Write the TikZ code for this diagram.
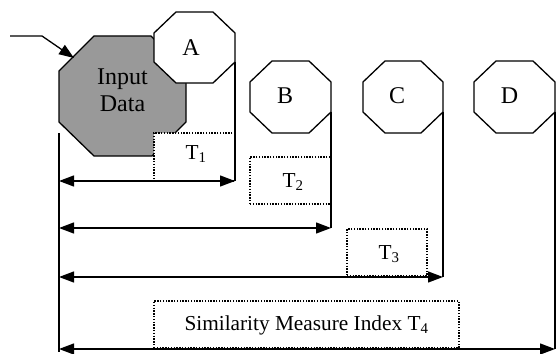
\documentclass[tikz,border=0pt]{standalone}
\usepackage{fontspec}
\setmainfont{Liberation Serif}
\usetikzlibrary{arrows.meta}
\begin{document}
\begin{tikzpicture}[x=1pt,y=-1pt,
  oct/.style={draw=black, line width=1.3pt, fill=white, line join=miter},
  conn/.style={draw=black, line width=1.3pt},
  dimarrow/.style={conn, {Triangle[length=15pt,width=11pt]}-{Triangle[length=15pt,width=11pt]}},
  lbl/.style={draw=black, line width=1.1pt, dash pattern=on 1.4pt off 1.4pt, fill=white, inner sep=0pt},
  bigtxt/.style={inner sep=0pt, font=\fontsize{24}{27}\selectfont, align=center},
  ttxt/.style={inner sep=0pt, font=\fontsize{21.3}{23}\selectfont}]
\useasboundingbox (0,0) rectangle (556,353);

% octagons
\draw[oct, fill={rgb,255:red,153;green,153;blue,153}]
  (94,36) -- (151,36) -- (186,71) -- (186,122) -- (152,156) -- (94,156) -- (59,122) -- (59,71) -- cycle;
\draw[oct] (176,12) -- (213,12) -- (235,33) -- (235,62) -- (213,83) -- (176,83) -- (154,62) -- (154,33) -- cycle;
\draw[oct] (272,61) -- (309,61) -- (331,82) -- (331,112) -- (309,133) -- (272,133) -- (250,112) -- (250,82) -- cycle;
\draw[oct] (385,61) -- (421,61) -- (443,82) -- (443,112) -- (421,133) -- (385,133) -- (363,112) -- (363,82) -- cycle;
\draw[oct] (496,61) -- (533,61) -- (555,82) -- (555,112) -- (533,133) -- (496,133) -- (474,112) -- (474,82) -- cycle;

% named points
\coordinate (aR) at (235,62);
\coordinate (bR) at (331,112);
\coordinate (cR) at (443,112);
\coordinate (dR) at (555,112);
\coordinate (l0) at (59,133);
\coordinate (lEnd) at (59,352);
\coordinate (l1) at (59,181);
\coordinate (l2) at (59,228);
\coordinate (l3) at (59,277);
\coordinate (l4) at (59,349);
\coordinate (r1) at (235,181);
\coordinate (r2) at (331,228);
\coordinate (r3) at (443,277);
\coordinate (r4) at (555,349);
\coordinate (in0) at (10,36);
\coordinate (in1) at (42,36);
\coordinate (inTip) at (74,58);

% dotted label boxes
\node[lbl, minimum width=81pt, minimum height=48pt] (t1box) at (194.5,157) {};
\node[lbl, minimum width=81pt, minimum height=47pt] (t2box) at (290.5,180.5) {};
\node[lbl, minimum width=80pt, minimum height=47pt] (t3box) at (387,252.5) {};
\node[lbl, minimum width=305pt, minimum height=47pt] (t4box) at (306.5,324.5) {};

% vertical lines
\draw[conn] (l0) -- (lEnd);
\draw[conn] (aR) -- (r1);
\draw[conn] (bR) -- (r2);
\draw[conn] (cR) -- (r3);
\draw[conn] (dR) -- (r4);

% dimension arrows
\draw[dimarrow] (l1) -- (r1);
\draw[dimarrow] (l2) -- (r2);
\draw[dimarrow] (l3) -- (r3);
\draw[dimarrow] (l4) -- (r4);

% input arrow
\draw[conn, -{Triangle[length=15pt,width=11pt]}] (in0) -- (in1) -- (inTip);

% texts
\node[bigtxt] (input) at (122.5,90) {Input\\Data};
\node[bigtxt] (A) at (191,48) {A};
\node[bigtxt] (B) at (285,96) {B};
\node[bigtxt] (C) at (397,96) {C};
\node[bigtxt] (D) at (509.5,96) {D};
\node[ttxt] (t1) at (196,154) {T\textsubscript{1}};
\node[ttxt] (t2) at (293,182) {T\textsubscript{2}};
\node[ttxt] (t3) at (389,254) {T\textsubscript{3}};
\node[ttxt] (t4) at (306.5,325) {Similarity Measure Index T\textsubscript{4}};
\end{tikzpicture}
\end{document}
